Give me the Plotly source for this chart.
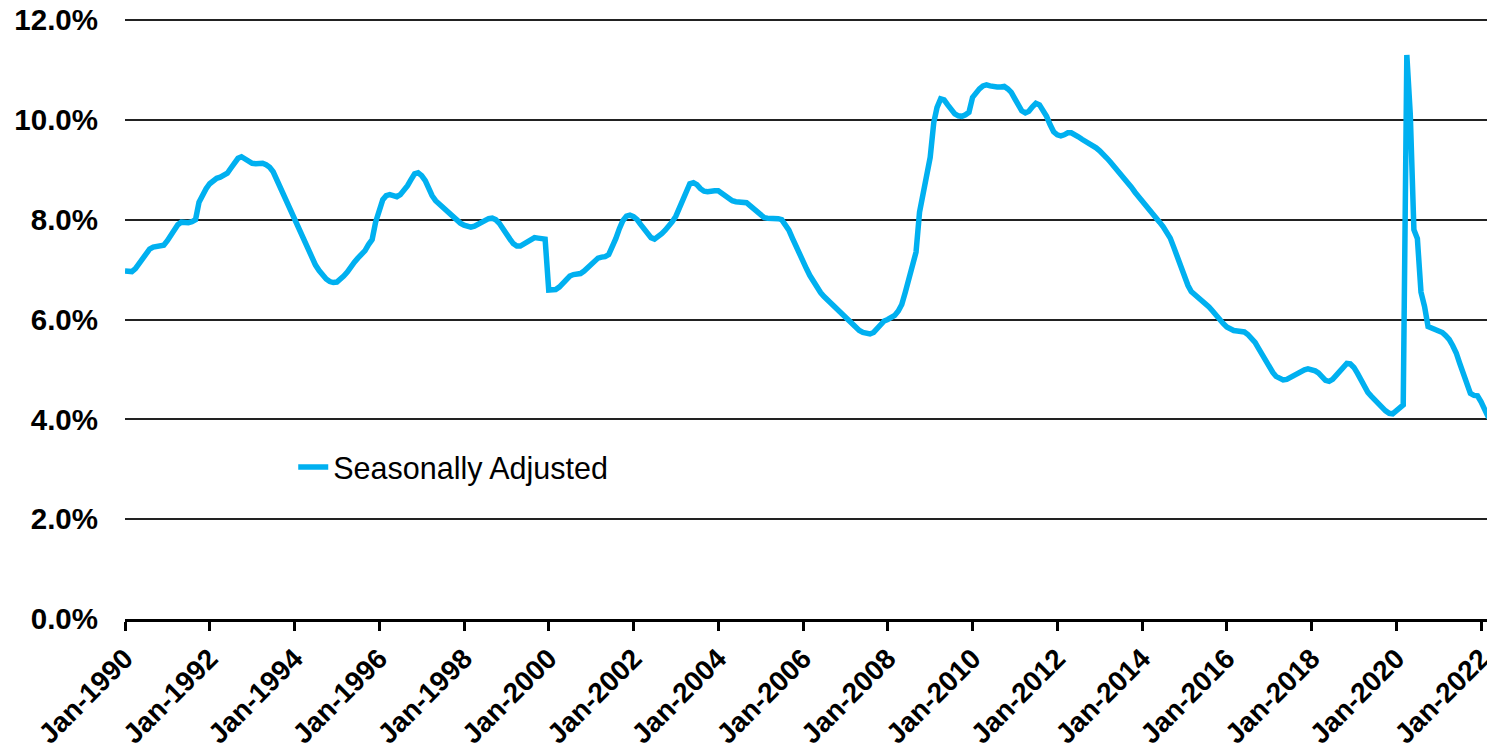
import pandas as pd
import plotly.graph_objects as go

start_month = "1990-01-01"
end_month = "2022-05-01"
series_name = "Seasonally Adjusted"

# Monthly values (%), Jan-1990 .. May-2022, one row per year
rate_1990 = [6.97, 6.96, 6.96, 7.02, 7.12, 7.22, 7.33, 7.41, 7.45, 7.47, 7.48, 7.49]
rate_1991 = [7.58, 7.69, 7.80, 7.90, 7.95, 7.94, 7.94, 7.96, 8.00, 8.35, 8.50, 8.62]
rate_1992 = [8.72, 8.79, 8.83, 8.85, 8.88, 8.93, 9.03, 9.15, 9.23, 9.26, 9.21, 9.15]
rate_1993 = [9.13, 9.12, 9.13, 9.13, 9.10, 9.05, 8.96, 8.80, 8.63, 8.45, 8.28, 8.13]
rate_1994 = [7.98, 7.83, 7.68, 7.53, 7.38, 7.23, 7.09, 6.98, 6.88, 6.81, 6.76, 6.74]
rate_1995 = [6.75, 6.80, 6.87, 6.95, 7.06, 7.15, 7.23, 7.30, 7.38, 7.50, 7.60, 7.95]
rate_1996 = [8.22, 8.40, 8.48, 8.50, 8.48, 8.46, 8.50, 8.58, 8.68, 8.80, 8.92, 8.94]
rate_1997 = [8.88, 8.78, 8.63, 8.48, 8.38, 8.31, 8.24, 8.19, 8.12, 8.05, 7.98, 7.93]
rate_1998 = [7.89, 7.86, 7.85, 7.87, 7.91, 7.95, 7.99, 8.02, 8.03, 8.00, 7.93, 7.84]
rate_1999 = [7.72, 7.61, 7.52, 7.47, 7.47, 7.52, 7.57, 7.61, 7.64, 7.63, 7.62, 7.61]
rate_2000 = [6.59, 6.59, 6.60, 6.65, 6.73, 6.80, 6.87, 6.90, 6.91, 6.92, 6.97, 7.04]
rate_2001 = [7.10, 7.17, 7.23, 7.25, 7.26, 7.30, 7.43, 7.62, 7.82, 7.98, 8.07, 8.09]
rate_2002 = [8.06, 8.00, 7.91, 7.81, 7.72, 7.64, 7.61, 7.65, 7.72, 7.79, 7.87, 7.96]
rate_2003 = [8.07, 8.25, 8.43, 8.60, 8.72, 8.74, 8.70, 8.62, 8.57, 8.56, 8.58, 8.58]
rate_2004 = [8.58, 8.53, 8.47, 8.43, 8.38, 8.36, 8.35, 8.35, 8.34, 8.28, 8.22, 8.13]
rate_2005 = [8.07, 8.04, 8.03, 8.03, 8.03, 8.02, 8.00, 7.91, 7.79, 7.63, 7.46, 7.30]
rate_2006 = [7.15, 7.01, 6.88, 6.76, 6.64, 6.54, 6.46, 6.39, 6.33, 6.26, 6.19, 6.12]
rate_2007 = [6.04, 5.96, 5.89, 5.83, 5.78, 5.74, 5.72, 5.71, 5.74, 5.82, 5.90, 5.97]
rate_2008 = [6.00, 6.04, 6.08, 6.17, 6.30, 6.55, 6.80, 7.05, 7.35, 8.15, 8.55, 8.85]
rate_2009 = [9.25, 9.95, 10.25, 10.42, 10.40, 10.30, 10.20, 10.12, 10.08, 10.07, 10.10, 10.15]
rate_2010 = [10.45, 10.55, 10.62, 10.68, 10.70, 10.68, 10.66, 10.66, 10.66, 10.67, 10.62, 10.55]
rate_2011 = [10.42, 10.28, 10.18, 10.14, 10.17, 10.26, 10.33, 10.30, 10.20, 10.07, 9.90, 9.76]
rate_2012 = [9.70, 9.68, 9.70, 9.74, 9.74, 9.71, 9.66, 9.61, 9.57, 9.52, 9.48, 9.44]
rate_2013 = [9.38, 9.32, 9.24, 9.16, 9.08, 9.00, 8.91, 8.83, 8.74, 8.65, 8.55, 8.47]
rate_2014 = [8.38, 8.30, 8.22, 8.13, 8.04, 7.95, 7.86, 7.75, 7.63, 7.45, 7.25, 7.05]
rate_2015 = [6.85, 6.68, 6.56, 6.50, 6.45, 6.38, 6.32, 6.25, 6.17, 6.08, 6.00, 5.92]
rate_2016 = [5.85, 5.80, 5.78, 5.77, 5.77, 5.75, 5.70, 5.62, 5.54, 5.42, 5.29, 5.16]
rate_2017 = [5.04, 4.94, 4.86, 4.81, 4.79, 4.80, 4.84, 4.88, 4.93, 4.97, 4.99, 5.01]
rate_2018 = [5.00, 4.97, 4.93, 4.86, 4.78, 4.76, 4.80, 4.88, 4.97, 5.07, 5.12, 5.11]
rate_2019 = [5.04, 4.92, 4.80, 4.66, 4.54, 4.46, 4.40, 4.33, 4.24, 4.17, 4.12, 4.11]
rate_2020 = [4.17, 4.24, 4.29, 11.30, 10.10, 7.80, 7.62, 6.55, 6.26, 5.86, 5.83, 5.81]
rate_2021 = [5.79, 5.74, 5.68, 5.60, 5.48, 5.33, 5.12, 4.93, 4.72, 4.52, 4.48, 4.47]
rate_2022 = [4.35, 4.18, 4.06, 3.97, 3.84]

y_ticks = [0, 2, 4, 6, 8, 10, 12]
y_tick_labels = ["0.0%", "2.0%", "4.0%", "6.0%", "8.0%", "10.0%", "12.0%"]

values = (rate_1990 + rate_1991 + rate_1992 + rate_1993 + rate_1994 + rate_1995 +
          rate_1996 + rate_1997 + rate_1998 + rate_1999 + rate_2000 + rate_2001 +
          rate_2002 + rate_2003 + rate_2004 + rate_2005 + rate_2006 + rate_2007 +
          rate_2008 + rate_2009 + rate_2010 + rate_2011 + rate_2012 + rate_2013 +
          rate_2014 + rate_2015 + rate_2016 + rate_2017 + rate_2018 + rate_2019 +
          rate_2020 + rate_2021 + rate_2022)
dates = [d.strftime("%Y-%m-%d") for d in pd.date_range(start_month, periods=len(values), freq="MS")]

fig = go.Figure()
fig.add_trace(go.Scatter(
    x=dates, y=values, mode="lines", name=series_name,
    line=dict(color="#00B0F0", width=5.5),
))

font_family = "Arial, Liberation Sans, sans-serif"

# page body has an 8px default margin, so the figure is sized to fit the window
fig.update_layout(
    width=1487, height=744,
    margin=dict(l=117, r=0, t=9, b=133, autoexpand=False),
    paper_bgcolor="white", plot_bgcolor="white",
    showlegend=True,
    legend=dict(x=0.1228, y=0.252, xanchor="left", yanchor="middle",
                font=dict(family=font_family, size=30.5, color="black"),
                bgcolor="rgba(0,0,0,0)"),
    font=dict(family=font_family, color="black"),
)
fig.update_xaxes(
    type="date", automargin=False, ticklabeloverflow="allow",
    range=[start_month, end_month],
    tick0=start_month, dtick="M24", tickformat="%b-%Y",
    tickangle=-45,
    tickfont=dict(family=font_family, size=28, color="black", weight="bold"),
    showgrid=False, showline=True, linecolor="black", linewidth=3,
    ticks="outside", ticklen=9, tickwidth=3, tickcolor="black",
)
fig.update_yaxes(
    automargin=False, ticklabeloverflow="allow",
    range=[0, 12.06],
    tickvals=y_ticks, ticktext=y_tick_labels,
    tickfont=dict(family=font_family, size=29.5, color="black", weight="bold"),
    showgrid=True, gridcolor="#222222", gridwidth=2,
    zeroline=False, showline=False, ticks="",
    ticklabelstandoff=26,
)

fig.write_html("out.html")
